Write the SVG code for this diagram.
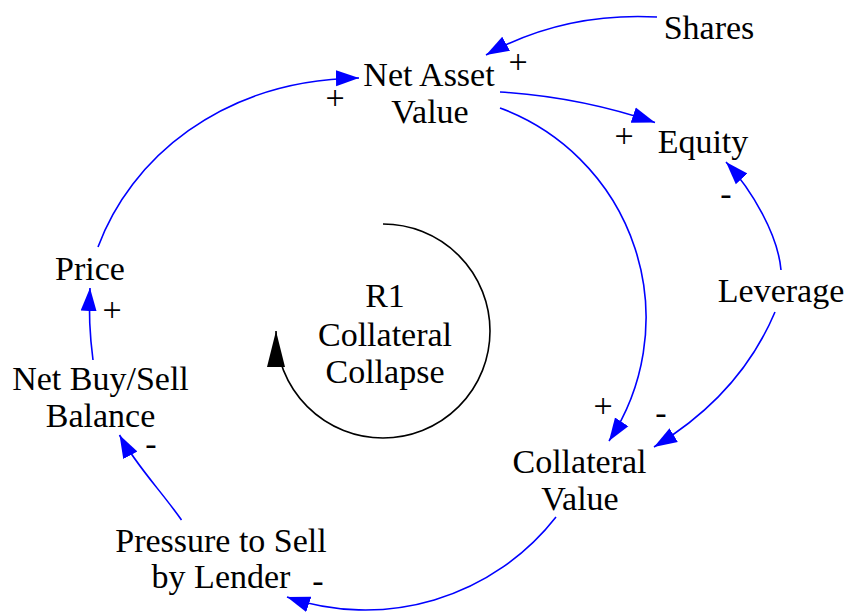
<svg xmlns="http://www.w3.org/2000/svg" width="848" height="612" viewBox="0 0 848 612">
<defs>
<marker id="ab" markerUnits="userSpaceOnUse" markerWidth="24" markerHeight="18" viewBox="0 0 24 18" refX="23" refY="9" orient="auto">
<path d="M0,1 L23,9 L0,17 z" fill="#0000ff" stroke="none"/>
</marker>
<marker id="ak" markerUnits="userSpaceOnUse" markerWidth="37" markerHeight="20" viewBox="0 0 37 20" refX="36" refY="10" orient="auto">
<path d="M0,1 L36,10 L0,19 z" fill="#000" stroke="none"/>
</marker>
</defs>
<rect width="848" height="612" fill="#fff"/>

<g id="connectors" fill="none" stroke="#0000ff" stroke-width="1.6" marker-end="url(#ab)">
<path id="shares-nav" d="M657,17 C600,14 540,25 486,55"/>
<path id="price-nav" d="M98,247 C130,160 220,80 359,78"/>
<path id="nav-equity" d="M500,92 Q580,97 655,122.5"/>
<path id="nav-collateral" d="M500,108 A223.6,223.6 0 0 1 609,441"/>
<path id="leverage-equity" d="M781,270 C778,235 752,190 726,162"/>
<path id="leverage-collateral" d="M775,312 Q740,395 654,447"/>
<path id="collateral-pressure" d="M556,517 A242,242 0 0 1 287,597"/>
<path id="pressure-balance" d="M181.5,520 C162,492 135,464 119.5,435"/>
<path id="balance-price" d="M93,360 Q88,322 90,288"/>
</g>

<g id="polarities" text-anchor="middle" fill="#000">
<text x="518" y="72.5" font-family="Liberation Serif" font-size="34">+</text>
<text x="335" y="108.5" font-family="Liberation Serif" font-size="34">+</text>
<text x="624" y="146.5" font-family="Liberation Serif" font-size="34">+</text>
<text x="603" y="416.5" font-family="Liberation Serif" font-size="34">+</text>
<text x="726" y="205" font-family="Liberation Serif" font-size="34">-</text>
<text x="661" y="424" font-family="Liberation Serif" font-size="34">-</text>
<text x="318" y="592" font-family="Liberation Serif" font-size="34">-</text>
<text x="151" y="455" font-family="Liberation Serif" font-size="34">-</text>
<text x="112" y="320.5" font-family="Liberation Serif" font-size="34">+</text>
</g>

<g id="loop-R1" text-anchor="middle" fill="#000">
<path d="M383,224 A107,107 0 1 1 276,331" fill="none" stroke="#000" stroke-width="1.6" marker-end="url(#ak)"/>
<text x="385" y="307" font-family="Liberation Serif" font-size="34">R1</text>
<text x="385" y="346" font-family="Liberation Serif" font-size="34">Collateral</text>
<text x="385" y="383" font-family="Liberation Serif" font-size="34">Collapse</text>
</g>

<g id="nodes" text-anchor="middle" fill="#000">
<g id="shares"><text x="709" y="39" font-family="Liberation Serif" font-size="34">Shares</text></g>
<g id="nav"><text x="429" y="86" font-family="Liberation Serif" font-size="34">Net Asset</text><text x="430" y="123" font-family="Liberation Serif" font-size="34">Value</text></g>
<g id="equity"><text x="703" y="153" font-family="Liberation Serif" font-size="34">Equity</text></g>
<g id="leverage"><text x="781" y="302" font-family="Liberation Serif" font-size="34">Leverage</text></g>
<g id="price"><text x="90" y="280" font-family="Liberation Serif" font-size="34">Price</text></g>
<g id="netbuy"><text x="100.5" y="390" font-family="Liberation Serif" font-size="34">Net Buy/Sell</text><text x="100.5" y="427" font-family="Liberation Serif" font-size="34">Balance</text></g>
<g id="collateral"><text x="579.5" y="473" font-family="Liberation Serif" font-size="34">Collateral</text><text x="580" y="510" font-family="Liberation Serif" font-size="34">Value</text></g>
<g id="pressure"><text x="221" y="552" font-family="Liberation Serif" font-size="34">Pressure to Sell</text><text x="221" y="588" font-family="Liberation Serif" font-size="34">by Lender</text></g>
</g>
</svg>
